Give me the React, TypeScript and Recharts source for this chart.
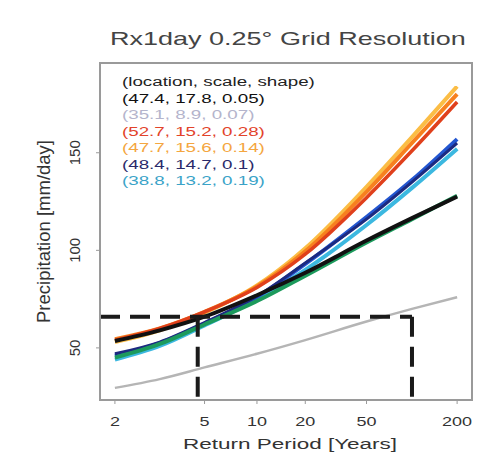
import React from "react";
import {
  LineChart,
  Line,
  XAxis,
  YAxis,
  ReferenceLine,
  Label,
} from "recharts";

// Return periods (years) and the curves (mm/day)
const RETURN_PERIODS = [2, 3, 5, 10, 20, 50, 100, 200];
const GRAY = [29.5, 34, 40, 47, 54, 63.5, 70, 76];
const GREEN = [45, 52, 62, 74, 87, 104, 116, 128];
const CYAN = [44, 51, 61.5, 75, 90, 113, 132, 152];
const BLUE = [46, 52.5, 62.5, 76, 93, 117, 136, 157];
const NAVY = [47, 53, 63, 76.5, 93.5, 116, 135, 155];
const GOLD = [53, 59, 68, 82, 101, 132.5, 158, 184];
const ORANGE = [54.5, 60, 68.5, 81.5, 99.5, 130, 155, 180];
const RED = [54, 60, 68.5, 81, 98, 127, 151, 176];
const BLACK = [53.5, 59, 66, 77, 88.5, 105, 116.5, 127.5];

const X_TICKS = [2, 5, 10, 20, 50, 200];
const Y_TICKS = [50, 100, 150];

const LEGEND_HEADER = "(location, scale, shape)";
const LEGEND_ROWS = [
  { text: "(47.4, 17.8, 0.05)", color: "#111111" },
  { text: "(35.1, 8.9, 0.07)", color: "#b4b4cc" },
  { text: "(52.7, 15.2, 0.28)", color: "#e2432a" },
  { text: "(47.7, 15.6, 0.14)", color: "#f4a640" },
  { text: "(48.4, 14.7, 0.1)", color: "#2a2a6a" },
  { text: "(38.8, 13.2, 0.19)", color: "#3aa3c8" },
];

// dashed box: x in return period, y in mm/day
const BOX_LEFT = 4.6;
const BOX_RIGHT = 100;
const BOX_TOP = 66;

const X_MIN = 1.794;
const X_MAX = 251.5;
const Y_MIN = 23.3;
const Y_MAX = 196;

// axis is log of (T - 1)
const data = RETURN_PERIODS.map((t, i) => ({
  tm1: t - 1,
  gray: GRAY[i],
  green: GREEN[i],
  cyan: CYAN[i],
  blue: BLUE[i],
  navy: NAVY[i],
  gold: GOLD[i],
  orange: ORANGE[i],
  red: RED[i],
  black: BLACK[i],
}));

const SERIES = [
  { key: "gray", color: "#b5b5b5", width: 2.5 },
  { key: "cyan", color: "#3cb8e0", width: 4 },
  { key: "blue", color: "#2356d0", width: 4 },
  { key: "navy", color: "#1c2a80", width: 3 },
  { key: "green", color: "#1c9a5c", width: 4 },
  { key: "gold", color: "#fbbd45", width: 4 },
  { key: "orange", color: "#f7801f", width: 4 },
  { key: "red", color: "#e0401c", width: 3.5 },
  { key: "black", color: "#111111", width: 4 },
];

const FONT = "'Liberation Sans', Arial, sans-serif";
const TEXT = "#333333";
const FRAME = "#9a9a9a";
const STRETCH = 1.5; // the source text is wide

function YTick({ y, payload }: any) {
  return (
    <text
      x={75}
      y={y}
      transform={`rotate(-90, 75, ${y})`}
      textAnchor="middle"
      dominantBaseline="central"
      fontSize={15}
      fill={TEXT}
      fontFamily={FONT}
    >
      {payload.value}
    </text>
  );
}

function XTick({ x, payload }: any) {
  return (
    <text
      transform={`translate(${x}, 426) scale(${STRETCH}, 1)`}
      textAnchor="middle"
      fontSize={12}
      fill={TEXT}
      fontFamily={FONT}
    >
      {Math.round(payload.value + 1)}
    </text>
  );
}

function XTitle({ viewBox }: any) {
  const cx = viewBox.x + viewBox.width / 2;
  return (
    <text
      transform={`translate(${cx + 4}, 449) scale(${STRETCH}, 1)`}
      textAnchor="middle"
      fontSize={15}
      fill={TEXT}
      fontFamily={FONT}
    >
      Return Period [Years]
    </text>
  );
}

export default function App() {
  return (
    <div style={{ position: "absolute", left: 0, top: 0, width: 481, height: 453, background: "#fff" }}>
      <div
        style={{
          position: "absolute",
          top: 28,
          left: 100,
          width: 376,
          textAlign: "center",
          fontFamily: FONT,
          fontSize: 19,
          lineHeight: "22px",
          color: "#444",
          transform: "scaleX(1.42)",
          whiteSpace: "nowrap",
        }}
      >
        Rx1day 0.25° Grid Resolution
      </div>
      <LineChart
        width={481}
        height={453}
        data={data}
        margin={{ top: 63, right: 9, left: 0, bottom: 0 }}
      >
        <XAxis
          dataKey="tm1"
          type="number"
          scale="log"
          domain={[X_MIN - 1, X_MAX - 1]}
          allowDataOverflow
          ticks={X_TICKS.map((t) => t - 1)}
          tick={<XTick />}
          axisLine={false}
          tickLine={{ stroke: FRAME }}
          tickSize={4}
          height={53}
        >
          <Label content={<XTitle />} />
        </XAxis>
        <YAxis
          type="number"
          domain={[Y_MIN, Y_MAX]}
          allowDataOverflow
          ticks={Y_TICKS}
          tick={<YTick />}
          axisLine={false}
          tickLine={{ stroke: FRAME }}
          tickSize={4}
          width={100}
        >
          <Label
            value="Precipitation [mm/day]"
            angle={-90}
            position="insideLeft"
            offset={43}
            style={{ fontSize: 18.5, fill: TEXT, fontFamily: FONT, textAnchor: "middle" }}
          />
        </YAxis>
        {SERIES.map((s) => (
          <Line
            key={s.key}
            type="monotone"
            dataKey={s.key}
            stroke={s.color}
            strokeWidth={s.width}
            dot={false}
            isAnimationActive={false}
          />
        ))}
        <ReferenceLine
          segment={[
            { x: X_MIN - 1, y: BOX_TOP },
            { x: BOX_RIGHT - 1, y: BOX_TOP },
          ]}
          stroke="#1a1a1a"
          strokeWidth={4}
          strokeDasharray="20 10"
          ifOverflow="visible"
        />
        <ReferenceLine
          segment={[
            { x: BOX_LEFT - 1, y: BOX_TOP },
            { x: BOX_LEFT - 1, y: Y_MIN },
          ]}
          stroke="#1a1a1a"
          strokeWidth={4}
          strokeDasharray="20 10"
          ifOverflow="visible"
        />
        <ReferenceLine
          segment={[
            { x: BOX_RIGHT - 1, y: BOX_TOP },
            { x: BOX_RIGHT - 1, y: Y_MIN },
          ]}
          stroke="#1a1a1a"
          strokeWidth={4}
          strokeDasharray="20 10"
          ifOverflow="visible"
        />
      </LineChart>
      {/* plot frame */}
      <div
        style={{
          position: "absolute",
          left: 99,
          top: 62,
          width: 374,
          height: 339,
          boxSizing: "border-box",
          border: `2px solid ${FRAME}`,
          pointerEvents: "none",
        }}
      />
      <div
        style={{
          position: "absolute",
          top: 74,
          left: 122,
          fontFamily: FONT,
          fontSize: 12.5,
          lineHeight: "16.5px",
          pointerEvents: "none",
          transform: `scaleX(${STRETCH})`,
          transformOrigin: "0 0",
          whiteSpace: "nowrap",
        }}
      >
        <div style={{ color: "#222" }}>{LEGEND_HEADER}</div>
        {LEGEND_ROWS.map((r) => (
          <div key={r.text} style={{ color: r.color }}>
            {r.text}
          </div>
        ))}
      </div>
    </div>
  );
}
